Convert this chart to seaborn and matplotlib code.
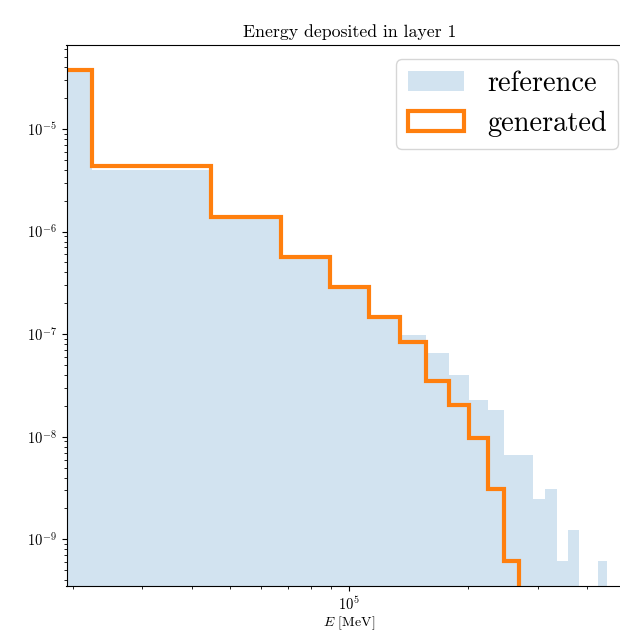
import numpy as np
import pandas as pd
import matplotlib
matplotlib.use("Agg")
import matplotlib.pyplot as plt
from matplotlib.patches import Patch
import seaborn as sns

plt.rcParams.update({
    "font.family": "serif",
    "font.serif": ["cmr10"],
    "mathtext.fontset": "cm",
    "axes.formatter.use_mathtext": True,
    "axes.unicode_minus": True,
    "xtick.labelsize": 10.5,
    "ytick.labelsize": 10.5,
})

# Histogram binning (MeV): 20 equal-width bins
bin_edges = [0, 22400, 44800, 67200, 89600, 112000, 134400, 156800, 179200,
             201600, 224000, 246400, 268800, 291200, 313600, 336000, 358400,
             380800, 403200, 425600, 448000]

# Normalised densities per bin (1/MeV)
reference_density = [3.65e-5, 4.01e-6, 1.35e-6, 5.5e-7, 2.85e-7, 1.42e-7,
                     9.84e-8, 6.52e-8, 4.0e-8, 2.28e-8, 1.83e-8, 6.62e-9,
                     6.62e-9, 2.46e-9, 3.08e-9, 6.14e-10, 1.23e-9, 0.0, 0.0,
                     6.14e-10]
generated_density = [3.79e-5, 4.31e-6, 1.38e-6, 5.64e-7, 2.89e-7, 1.47e-7,
                     8.36e-8, 3.50e-8, 2.03e-8, 9.8e-9, 3.08e-9, 6.14e-10,
                     0.0, 0.0, 0.0, 0.0, 0.0, 0.0, 0.0, 0.0]

series_labels = ["reference", "generated"]
title = "Energy deposited in layer 1"
x_label = r"$E$ [MeV]"

edges = np.asarray(bin_edges, dtype=float)
df = pd.DataFrame({
    "energy": 0.5 * (edges[:-1] + edges[1:]),
    "reference": reference_density,
    "generated": generated_density,
})

blue = "#1f77b4"
orange = "#ff7f0e"

fig = plt.figure(figsize=(6.2, 6.32), dpi=100)
ax = fig.add_axes([66.5 / 620, 46.3 / 632, 565.8 / 620, 540.7 / 632])

sns.histplot(data=df, x="energy", weights="reference", bins=list(edges),
             stat="count", element="step", fill=True, color=blue, alpha=0.2,
             linewidth=0, ax=ax)
sns.histplot(data=df, x="energy", weights="generated", bins=list(edges),
             stat="count", element="step", fill=False, color=orange, alpha=1.0,
             linewidth=3, solid_joinstyle="miter", ax=ax)

ax.set_xscale("log")
ax.set_yscale("log")
ax.use_sticky_edges = False
ax.relim()
ax.autoscale_view()

ax.set_title(title, fontsize=12.8)
ax.set_xlabel(x_label, labelpad=1)
ax.set_ylabel("")

handles = [
    Patch(facecolor=blue, edgecolor="none", alpha=0.2, linewidth=0),
    Patch(facecolor="none", edgecolor=orange, linewidth=3),
]
ax.legend(handles=handles, labels=series_labels, fontsize=20.4,
          loc="upper right")

fig.savefig("out.png", dpi=100)
